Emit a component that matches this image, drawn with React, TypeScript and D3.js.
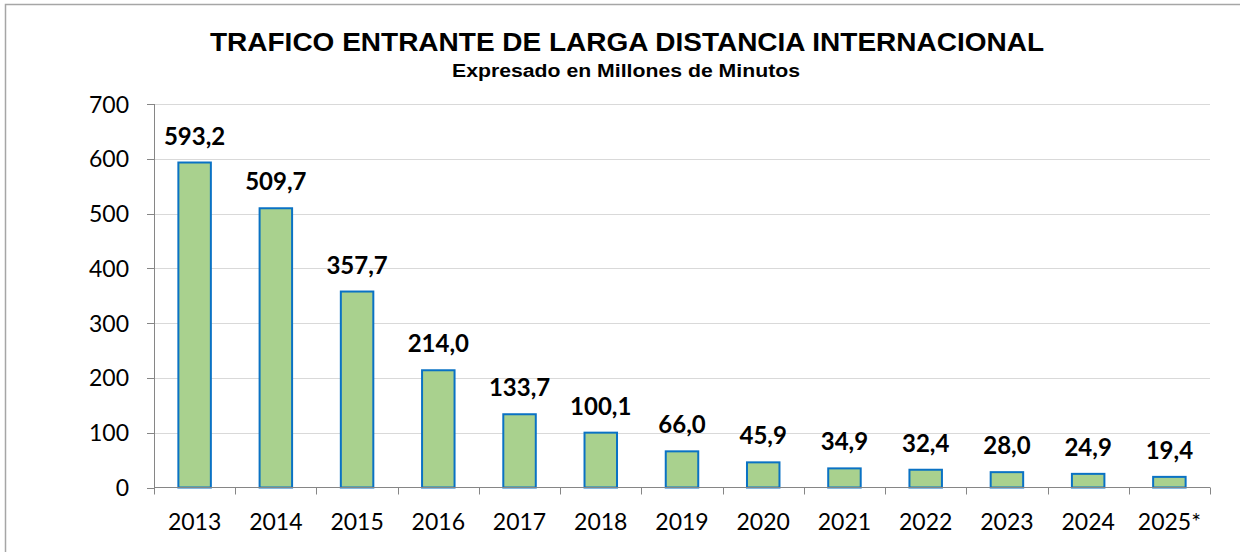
import React from "react";
import * as d3 from "d3";

const years = ["2013", "2014", "2015", "2016", "2017", "2018", "2019", "2020", "2021", "2022", "2023", "2024", "2025*"];
const minutes = [593.2, 509.7, 357.7, 214.0, 133.7, 100.1, 66.0, 45.9, 34.9, 32.4, 28.0, 24.9, 19.4];
const yTicks = [0, 100, 200, 300, 400, 500, 600, 700];
const title = "TRAFICO ENTRANTE DE LARGA DISTANCIA INTERNACIONAL";
const subtitle = "Expresado en Millones de Minutos";

const W = 1240;
const H = 552;
const left = 154;
const right = 1210;
const top = 104;
const bottom = 487.5;

export default function App() {
  const x = d3.scaleBand<string>().domain(years).range([left, right]).padding(0);
  const y = d3.scaleLinear().domain([0, 700]).range([bottom, top]);
  const bw = x.bandwidth() * 0.4;
  const fmt = (v: number) => v.toFixed(1).replace(".", ",");
  const boundaries = years.map((d) => x(d) as number).concat([right]);
  const numFont = "Lato, 'Open Sans', sans-serif";

  return (
    <svg width={W} height={H} style={{ position: "absolute", left: 0, top: 0, background: "#fff" }}>
      <rect x={0} y={0} width={W} height={H} fill="#fff" />
      <rect x={5.5} y={4.5} width={W + 20} height={H + 20} fill="none" stroke="#A6A6A6" strokeWidth={1.5} />
      <text x={627} y={51} textAnchor="middle" fontFamily="'Liberation Sans', Arial, sans-serif" fontWeight="bold" fontSize={26} textLength={834} lengthAdjust="spacingAndGlyphs" fill="#000">{title}</text>
      <text x={626} y={77} textAnchor="middle" fontFamily="'Liberation Sans', Arial, sans-serif" fontWeight="bold" fontSize={18} textLength={348} lengthAdjust="spacingAndGlyphs" fill="#000">{subtitle}</text>
      {yTicks.filter((t) => t > 0).map((t) => (
        <line key={"g" + t} x1={left} x2={right} y1={Math.round(y(t)) + 0.5} y2={Math.round(y(t)) + 0.5} stroke="#D9D9D9" strokeWidth={1} />
      ))}
      {yTicks.map((t) => (
        <g key={"y" + t}>
          <line x1={147} x2={left} y1={Math.round(y(t)) + 0.5} y2={Math.round(y(t)) + 0.5} stroke="#868686" strokeWidth={1} />
          <text x={129} y={y(t) + 8.5} textAnchor="end" fontFamily={numFont} fontSize={23} fill="#000">{t}</text>
        </g>
      ))}
      <line x1={left + 0.5} x2={left + 0.5} y1={top} y2={bottom} stroke="#868686" strokeWidth={1} />
      {minutes.map((v, i) => {
        const cx = (x(years[i]) as number) + x.bandwidth() / 2;
        return (
          <g key={"b" + i}>
            <rect x={cx - bw / 2} y={y(v)} width={bw} height={bottom - y(v)} fill="#A9D18E" stroke="#0A72C4" strokeWidth={2} />
            <text x={cx} y={y(v) - 18} textAnchor="middle" fontFamily={numFont} fontWeight="bold" fontSize={24} fill="#000">{fmt(v)}</text>
          </g>
        );
      })}
      <line x1={left} x2={right} y1={bottom} y2={bottom} stroke="#868686" strokeWidth={1} />
      {boundaries.map((bx, i) => (
        <line key={"t" + i} x1={Math.round(bx) + 0.5} x2={Math.round(bx) + 0.5} y1={bottom} y2={bottom + 7} stroke="#868686" strokeWidth={1} />
      ))}
      {years.map((d) => (
        <text key={"x" + d} x={(x(d) as number) + x.bandwidth() / 2} y={530} textAnchor="middle" fontFamily={numFont} fontSize={23} fill="#000">{d}</text>
      ))}
    </svg>
  );
}
